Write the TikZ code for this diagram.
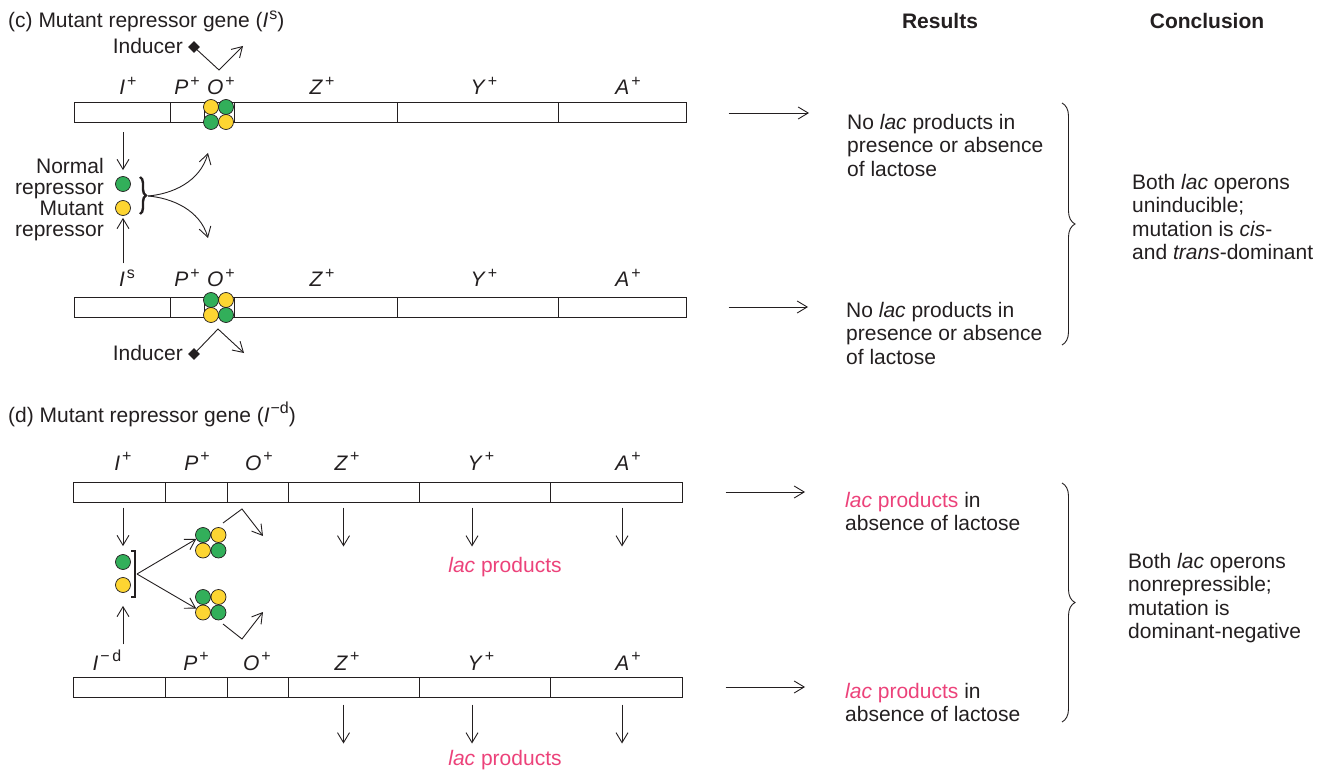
\documentclass[tikz,border=0pt]{standalone}
\usepackage{fontspec}
\setmainfont{Liberation Sans}
\usetikzlibrary{arrows.meta, positioning, shapes.geometric, decorations.pathreplacing}
\definecolor{ink}{RGB}{35,31,32}
\definecolor{repgreen}{RGB}{50,175,90}
\definecolor{repyellow}{RGB}{253,213,50}
\definecolor{lacpink}{RGB}{236,66,122}
\newcommand{\raisedmark}[1]{\raisebox{0.42em}{\fontsize{16}{16}\selectfont #1}}
\newcommand{\gn}[2]{\textit{#1}\kern2pt\raisedmark{#2}}

\begin{document}
\begin{tikzpicture}[
  x=1pt, y=-1pt,
  every node/.style={text=ink, inner sep=0pt, font=\fontsize{21}{23.5}\selectfont},
  seg/.style={draw=ink, line width=1pt, minimum height=20pt},
  rep/.style={circle, draw=ink, line width=0.7pt, minimum size=15pt},
  gr/.style={rep, fill=repgreen},
  ye/.style={rep, fill=repyellow},
  arr/.style={draw=ink, line width=0.9pt, -{Straight Barb[length=10pt,width=12pt]}},
  ln/.style={draw=ink, line width=0.9pt},
  lbl/.style={anchor=base},
  txt/.style={anchor=north west, align=left},
  hdr/.style={anchor=base, font=\fontsize{21}{23.5}\selectfont\bfseries},
  ind/.style={diamond, fill=ink, minimum size=12pt},
  brc/.style={ln, decorate, decoration={brace, amplitude=13pt}},
]
\useasboundingbox (0,0) rectangle (1331,770);

%% ---- headings ----
\node[anchor=base west] (tc) at (8,28) {(c) Mutant repressor gene (\textit{I}\kern1pt\raisedmark{s})};
\node[hdr] (hres) at (940,29) {Results};
\node[hdr] (hcon) at (1207,29) {Conclusion};

%% ---- (c) first operon ----
\node[seg, minimum width=96pt]  (cI1) at (122,113)   {};
\node[seg, minimum width=34pt]  (cP1) at (187,113)   {};
\node[seg, minimum width=30pt]  (cO1) at (219,113)   {};
\node[seg, minimum width=163pt] (cZ1) at (315.5,113) {};
\node[seg, minimum width=161pt] (cY1) at (477.5,113) {};
\node[seg, minimum width=128pt] (cA1) at (622,113)   {};

\node[lbl] (lI1) at (128,95) {\gn{I}{+}};
\node[lbl] (lP1) at (187,95) {\gn{P}{+}};
\node[lbl] (lO1) at (221,95) {\gn{O}{+}};
\node[lbl] (lZ1) at (322,95) {\gn{Z}{+}};
\node[lbl] (lY1) at (484,95) {\gn{Y}{+}};
\node[lbl] (lA1) at (628,95) {\gn{A}{+}};

\node[ye] (q1a) at (211,107) {};
\node[gr] (q1b) at (226,107) {};
\node[gr] (q1c) at (211,122) {};
\node[ye] (q1d) at (226,122) {};

\node[ind] (ind1) at (194,47) {};
\node[anchor=base east] (indt1) at (183,54) {Inducer};
\coordinate (k1) at (219,70);
\coordinate (e1) at (243,46);
\draw[arr] (ind1.center) -- (k1) -- (e1);

%% ---- (c) repressors ----
\node[gr] (nrep) at (123,184) {};
\node[ye] (mrep) at (123,208) {};
\node[anchor=north east, align=right, font=\fontsize{21}{21}\selectfont]
  (reptxt) at (104,158) {Normal\\repressor\\Mutant\\repressor};

\draw[arr, shorten <=9pt, shorten >=6pt] (cI1.south -| nrep) -- (nrep.north);
\draw[ln, line width=2.4pt, decorate, decoration={brace, amplitude=6pt}] (140,177) -- (140,214);
\coordinate (bc) at (148,196);
\coordinate (up1) at (208,153);
\coordinate (dn1) at (208,238);
\draw[arr] (bc) .. controls (172,194) and (200,182) .. (up1);
\draw[arr] (bc) .. controls (172,198) and (200,210) .. (dn1);

%% ---- (c) second operon ----
\node[seg, minimum width=96pt]  (cI2) at (122,307)   {};
\node[seg, minimum width=34pt]  (cP2) at (187,307)   {};
\node[seg, minimum width=30pt]  (cO2) at (219,307)   {};
\node[seg, minimum width=163pt] (cZ2) at (315.5,307) {};
\node[seg, minimum width=161pt] (cY2) at (477.5,307) {};
\node[seg, minimum width=128pt] (cA2) at (622,307)   {};

\node[lbl] (lI2) at (127,287) {\gn{I}{s}};
\node[lbl] (lP2) at (187,287) {\gn{P}{+}};
\node[lbl] (lO2) at (221,287) {\gn{O}{+}};
\node[lbl] (lZ2) at (322,287) {\gn{Z}{+}};
\node[lbl] (lY2) at (484,287) {\gn{Y}{+}};
\node[lbl] (lA2) at (628,287) {\gn{A}{+}};

\node[gr] (q2a) at (211,300) {};
\node[ye] (q2b) at (226,300) {};
\node[ye] (q2c) at (211,315) {};
\node[gr] (q2d) at (226,315) {};

\draw[arr, shorten <=6pt, shorten >=2pt] (lI2.north -| mrep) -- (mrep.south);

\node[ind] (ind2) at (194,354) {};
\node[anchor=base east] (indt2) at (183,360) {Inducer};
\coordinate (k2) at (218,329);
\coordinate (e2) at (244,353);
\draw[arr] (ind2.center) -- (k2) -- (e2);

%% ---- (c) results and conclusion ----
\node[txt] (res1) at (847,114) {No \textit{lac} products in\\presence or absence\\of lactose};
\node[txt] (res2) at (846,302) {No \textit{lac} products in\\presence or absence\\of lactose};
\draw[arr, shorten <=42pt, shorten >=38pt] (cA1.east) -- (cA1.east -| res1.west);
\draw[arr, shorten <=42pt, shorten >=38pt] (cA2.east) -- (cA2.east -| res2.west);
\draw[brc] (1062,103) -- (1062,345);
\node[txt] (con1) at (1132,174) {Both \textit{lac} operons\\uninducible;\\mutation is \textit{cis}-\\and \textit{trans}-dominant};

%% ---- (d) heading ----
\node[anchor=base west] (td) at (8,422) {(d) Mutant repressor gene (\textit{I}\kern1pt\raisedmark{\char"2212 d})};

%% ---- (d) first operon ----
\node[seg, minimum width=92pt]  (dI1) at (119,492)   {};
\node[seg, minimum width=62pt]  (dP1) at (196,492)   {};
\node[seg, minimum width=61pt]  (dO1) at (257.5,492) {};
\node[seg, minimum width=131pt] (dZ1) at (353.5,492) {};
\node[seg, minimum width=131pt] (dY1) at (484.5,492) {};
\node[seg, minimum width=132pt] (dA1) at (616,492)   {};

\node[lbl] (lI3) at (123,470) {\gn{I}{+}};
\node[lbl] (lP3) at (197,470) {\gn{P}{+}};
\node[lbl] (lO3) at (259,470) {\gn{O}{+}};
\node[lbl] (lZ3) at (347,470) {\gn{Z}{+}};
\node[lbl] (lY3) at (481,470) {\gn{Y}{+}};
\node[lbl] (lA3) at (628,470) {\gn{A}{+}};

\draw[arr] ([xshift=-10pt,yshift=-5pt]dZ1.south) -- ++(0,39);
\draw[arr] ([xshift=-12.5pt,yshift=-5pt]dY1.south) -- ++(0,39);
\draw[arr] ([xshift=6pt,yshift=-5pt]dA1.south) -- ++(0,39);
\node[lbl, text=lacpink] (lac1) at (505,572) {\textit{lac} products};

%% ---- (d) repressors ----
\node[gr] (dn) at (123,562) {};
\node[ye] (dm) at (123,585) {};
\draw[arr, shorten <=5pt, shorten >=8pt] (dI1.south -| dn) -- (dn.north);
\draw[ln, line width=2pt] (131,551) -- (135,551) -- (135,597) -- (131,597);
\coordinate (bd) at (137,574);

\node[gr] (t1a) at (203,535)     {};
\node[ye] (t1b) at (218.5,535)   {};
\node[ye] (t1c) at (203,550.5)   {};
\node[gr] (t1d) at (218.5,550.5) {};
\node[gr] (t2a) at (203,597)     {};
\node[ye] (t2b) at (218.5,597)   {};
\node[ye] (t2c) at (203,612.5)   {};
\node[gr] (t2d) at (218.5,612.5) {};

\draw[arr] (bd) -- (t1a);
\draw[arr] (bd) -- (t2c);

\coordinate (s3) at (223,523);
\coordinate (k3) at (242,509);
\coordinate (e3) at (263,536);
\draw[arr] (s3) -- (k3) -- (e3);
\coordinate (s4) at (223,624);
\coordinate (k4) at (242,639);
\coordinate (e4) at (263,612);
\draw[arr] (s4) -- (k4) -- (e4);

%% ---- (d) second operon ----
\node[seg, minimum width=92pt]  (dI2) at (119,687)   {};
\node[seg, minimum width=62pt]  (dP2) at (196,687)   {};
\node[seg, minimum width=61pt]  (dO2) at (257.5,687) {};
\node[seg, minimum width=131pt] (dZ2) at (353.5,687) {};
\node[seg, minimum width=131pt] (dY2) at (484.5,687) {};
\node[seg, minimum width=132pt] (dA2) at (616,687)   {};

\node[lbl] (lI4) at (107,670) {\gn{I}{\char"2212\,d}};
\node[lbl] (lP4) at (196,670) {\gn{P}{+}};
\node[lbl] (lO4) at (257,670) {\gn{O}{+}};
\node[lbl] (lZ4) at (347,670) {\gn{Z}{+}};
\node[lbl] (lY4) at (481,670) {\gn{Y}{+}};
\node[lbl] (lA4) at (628,670) {\gn{A}{+}};

\draw[arr, shorten <=5pt, shorten >=13pt] (lI4.north -| dm) -- (dm.south);

\draw[arr] ([xshift=-10pt,yshift=-7pt]dZ2.south) -- ++(0,39);
\draw[arr] ([xshift=-12.5pt,yshift=-7pt]dY2.south) -- ++(0,39);
\draw[arr] ([xshift=6pt,yshift=-7pt]dA2.south) -- ++(0,39);
\node[lbl, text=lacpink] (lac2) at (505,765) {\textit{lac} products};

%% ---- (d) results and conclusion ----
\node[txt] (res3) at (845,492) {\textcolor{lacpink}{\textit{lac} products} in\\absence of lactose};
\node[txt] (res4) at (845,683) {\textcolor{lacpink}{\textit{lac} products} in\\absence of lactose};
\draw[arr, shorten <=43pt, shorten >=40pt] (dA1.east) -- (dA1.east -| res3.west);
\draw[arr, shorten <=43pt, shorten >=40pt] (dA2.east) -- (dA2.east -| res4.west);
\draw[brc] (1062,483) -- (1062,722);
\node[txt] (con2) at (1128,553) {Both \textit{lac} operons\\nonrepressible;\\mutation is\\dominant-negative};

\end{tikzpicture}
\end{document}
